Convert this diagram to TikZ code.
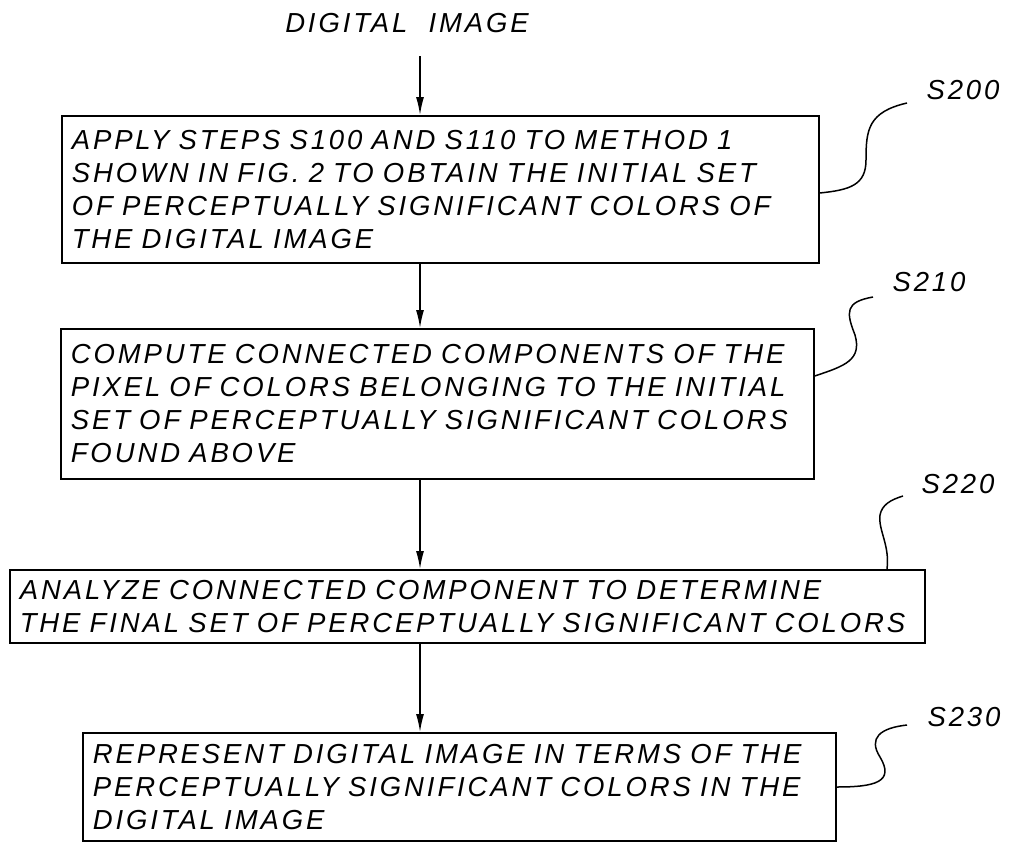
\documentclass[tikz,border=0pt]{standalone}
\usepackage{fontspec}
\setmainfont{Liberation Sans}[LetterSpace=10.5, WordSpace=2.0]
\usetikzlibrary{arrows.meta}
\begin{document}
\begin{tikzpicture}[x=1bp,y=-1bp,
  txt/.style={font=\itshape\fontsize{27.5bp}{33bp}\selectfont},
  stepbox/.style={txt,draw,line width=1.6bp,anchor=north west,inner xsep=10bp,inner ysep=0pt,align=left},
  flow/.style={line width=1.4bp,-{Latex[length=18bp,width=8bp]}},
  lead/.style={line width=1.5bp}]
\useasboundingbox (0,0) rectangle (1009,842);
\coordinate (ax) at (420,0);
\node[txt,anchor=center] (di) at (407,23) {DIGITAL IMAGE};
\node[stepbox,text width=737bp,minimum height=147bp] (b1) at (61,115) {APPLY STEPS S100 AND S110 TO METHOD 1\\SHOWN IN FIG. 2 TO OBTAIN THE INITIAL SET\\OF PERCEPTUALLY SIGNIFICANT COLORS OF\\THE DIGITAL IMAGE};
\node[stepbox,text width=733bp,minimum height=150bp] (b2) at (60,328) {COMPUTE CONNECTED COMPONENTS OF THE\\PIXEL OF COLORS BELONGING TO THE INITIAL\\SET OF PERCEPTUALLY SIGNIFICANT COLORS\\FOUND ABOVE};
\node[stepbox,text width=895bp,minimum height=73bp] (b3) at (9,569) {ANALYZE CONNECTED COMPONENT TO DETERMINE\\THE FINAL SET OF PERCEPTUALLY SIGNIFICANT COLORS};
\node[stepbox,text width=733bp,minimum height=108bp] (b4) at (82,732) {REPRESENT DIGITAL IMAGE IN TERMS OF THE\\PERCEPTUALLY SIGNIFICANT COLORS IN THE\\DIGITAL IMAGE};
\node[txt] (l1) at (963,90) {S200};
\node[txt] (l2) at (929,282) {S210};
\node[txt] (l3) at (958,484) {S220};
\node[txt] (l4) at (964,717) {S230};
\coordinate (t1) at (907,103);
\coordinate (t2) at (873,297);
\coordinate (t3) at (903,496);
\coordinate (t4) at (907,725);
\draw[flow] (di.south -| ax) ++(0,20) -- (b1.north -| ax);
\draw[flow] (b1.south -| ax) -- (b2.north -| ax);
\draw[flow] (b2.south -| ax) -- (b3.north -| ax);
\draw[flow] (b3.south -| ax) -- (b4.north -| ax);
\draw[lead] (b1.east |- 0,193) .. controls (850,190) and (866,185) .. (866,160) .. controls (866,130) and (868,112) .. (t1);
\draw[lead] (b2.east |- 0,376) .. controls (845,366) and (862,360) .. (855,335) .. controls (846,312) and (845,302) .. (t2);
\draw[lead] (b3.north -| 887,0) .. controls (890,545) and (878,530) .. (880,515) .. controls (882,505) and (890,500) .. (t3);
\draw[lead] (b4.east |- 0,787) .. controls (875,787) and (895,782) .. (880,757) .. controls (868,738) and (880,728) .. (t4);
\end{tikzpicture}
\end{document}
